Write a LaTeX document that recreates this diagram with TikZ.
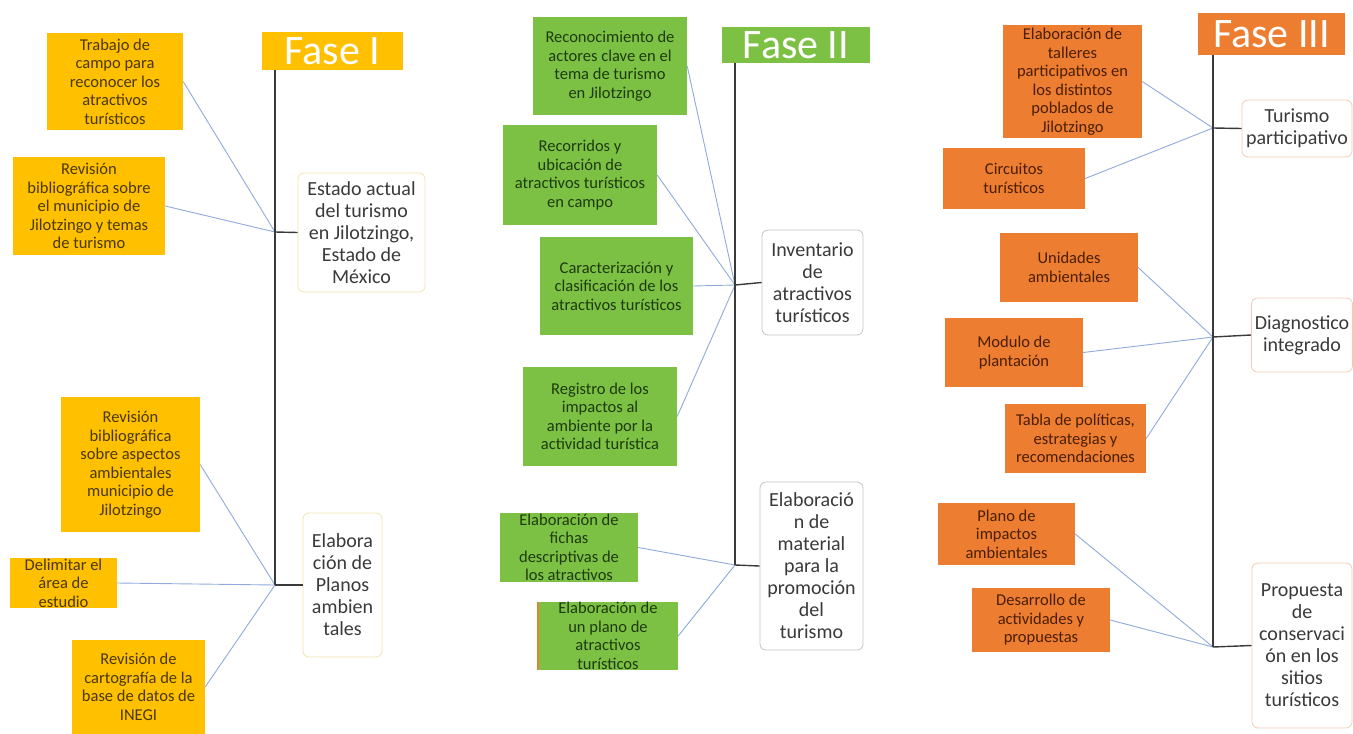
\documentclass[tikz,border=0pt]{standalone}
\usepackage{fontspec}
\setmainfont{Carlito}
\definecolor{cgold}{HTML}{FFC000}
\definecolor{cgreen}{HTML}{7CC144}
\definecolor{corange}{HTML}{ED7D31}
\definecolor{tgold}{HTML}{4A3800}
\definecolor{tgreen}{HTML}{1E3A0E}
\definecolor{torange}{HTML}{4A1E00}
\definecolor{cdark}{HTML}{3A3A3A}
\definecolor{cconn}{HTML}{8FAADC}
\definecolor{bgold}{HTML}{F3E3AE}
\definecolor{bgray}{HTML}{C4C4C4}
\definecolor{borange}{HTML}{F4C9B4}
\begin{document}
\begin{tikzpicture}[x=1pt,y=-1pt,
  sbox/.style={rectangle, inner sep=0pt, align=center, font=\fontsize{16.5}{18.5}\selectfont},
  goldbox/.style={sbox, fill=cgold, text=tgold},
  greenbox/.style={sbox, fill=cgreen, text=tgreen},
  orangebox/.style={sbox, fill=corange, text=torange},
  bigbox/.style={rectangle, rounded corners=6pt, draw, line width=0.8pt, fill=white, text=cdark, align=center, inner sep=0pt, font=\fontsize{20}{22}\selectfont},
  head/.style={rectangle, inner sep=0pt, text=white, text depth=0pt, font=\fontsize{42}{42}\selectfont},
  conn/.style={draw=cconn, line width=0.9pt},
  mainline/.style={draw=cdark, line width=1.4pt}
]
\useasboundingbox (0,0) rectangle (1353,734);

% ---------------- Fase I ----------------
\node[head, fill=cgold, minimum width=141, minimum height=38] (h1) at (332.5,51) {Fase I};
\node[goldbox, minimum width=136, minimum height=97] (a1) at (115,81.5) {Trabajo de\\campo para\\reconocer los\\atractivos\\turísticos};
\node[goldbox, minimum width=152, minimum height=98] (a2) at (89,206) {Revisión\\bibliográfica sobre\\el municipio de\\Jilotzingo y temas\\de turismo};
\node[bigbox, draw=bgold, minimum width=127, minimum height=119] (e1) at (361.5,232.5) {Estado actual\\del turismo\\en Jilotzingo,\\Estado de\\México};
\node[goldbox, minimum width=139, minimum height=135] (a3) at (130.5,464.5) {Revisión\\bibliográfica\\sobre aspectos\\ambientales\\municipio de\\Jilotzingo};
\node[goldbox, minimum width=107, minimum height=50] (a4) at (63.5,583) {Delimitar el\\área de\\estudio};
\node[goldbox, minimum width=133, minimum height=94] (a5) at (138.5,687) {Revisión de\\cartografía de la\\base de datos de\\INEGI};
\node[bigbox, draw=bgold, minimum width=79, minimum height=144] (e2) at (342.5,585) {Elabora\\ción de\\Planos\\ambien\\tales};

\coordinate (t1) at (275,70);
\coordinate (j1) at (275,232);
\coordinate (j2) at (275,585);
\draw[conn] (a1.east) -- (j1);
\draw[conn] (a2.east) -- (j1);
\draw[conn] (a3.east) -- (j2);
\draw[conn] (a4.east) -- (j2);
\draw[conn] (a5.east) -- (j2);
\draw[mainline] (t1) -- (j2);
\draw[mainline] (j1) -- (e1.west);
\draw[mainline] (j2) -- (e2.west);

% ---------------- Fase II ----------------
\node[head, fill=cgreen, minimum width=148, minimum height=36] (h2) at (796,45) {Fase II};
\node[greenbox, minimum width=154, minimum height=98] (b1) at (610,66) {Reconocimiento de\\actores clave en el\\tema de turismo\\en Jilotzingo};
\node[greenbox, minimum width=154, minimum height=100] (b2) at (580,175) {Recorridos y\\ubicación de\\atractivos turísticos\\en campo};
\node[greenbox, minimum width=153, minimum height=98] (b3) at (616.5,286) {Caracterización y\\clasificación de los\\atractivos turísticos};
\node[bigbox, draw=bgray, minimum width=101, minimum height=105] (e3) at (812.5,282.5) {Inventario\\de\\atractivos\\turísticos};
\node[greenbox, minimum width=154, minimum height=99] (b4) at (600,416.5) {Registro de los\\impactos al\\ambiente por la\\actividad turística};
\node[greenbox, minimum width=138, minimum height=69] (b5) at (569,547.5) {Elaboración de\\fichas\\descriptivas de\\los atractivos};
\node[greenbox, minimum width=140, minimum height=68] (b6) at (608,636) {Elaboración de\\un plano de\\atractivos\\turísticos};
\draw[corange, line width=2pt] (b6.north west) -- (b6.south west);
\node[bigbox, draw=bgray, minimum width=103, minimum height=168] (e4) at (811.5,566) {Elaboració\\n de\\material\\para la\\promoción\\del\\turismo};

\coordinate (t2) at (735,63);
\coordinate (j3) at (735,285);
\coordinate (j4) at (735,565);
\draw[conn] (b1.east) -- (j3);
\draw[conn] (b2.east) -- (j3);
\draw[conn] (b3.east) -- (j3);
\draw[conn] (b4.east) -- (j3);
\draw[conn] (b5.east) -- (j4);
\draw[conn] (b6.east) -- (j4);
\draw[mainline] (t2) -- (j4);
\draw[mainline] (j3) -- (e3.west);
\draw[mainline] (j4) -- (e4.west);

% ---------------- Fase III ----------------
\node[head, fill=corange, minimum width=147, minimum height=42] (h3) at (1271.5,34) {Fase III};
\node[orangebox, minimum width=139, minimum height=113] (c1) at (1072.5,81.5) {Elaboración de\\talleres\\participativos en\\los distintos\\poblados de\\Jilotzingo};
\node[orangebox, minimum width=142, minimum height=61] (c2) at (1014,178.5) {Circuitos\\turísticos};
\node[bigbox, draw=borange, minimum width=110, minimum height=57] (e5) at (1297,128.5) {Turismo\\participativo};
\node[orangebox, minimum width=138, minimum height=69] (c3) at (1069,267.5) {Unidades\\ambientales};
\node[orangebox, minimum width=138, minimum height=69] (c4) at (1014,352.5) {Modulo de\\plantación};
\node[bigbox, draw=borange, minimum width=101, minimum height=74] (e6) at (1302,335) {Diagnostico\\integrado};
\node[orangebox, minimum width=141, minimum height=69] (c5) at (1075.5,438.5) {Tabla de políticas,\\estrategias y\\recomendaciones};
\node[orangebox, minimum width=137, minimum height=62] (c6) at (1006.5,534) {Plano de\\impactos\\ambientales};
\node[orangebox, minimum width=138, minimum height=64] (c7) at (1041,620) {Desarrollo de\\actividades y\\propuestas};
\node[bigbox, draw=borange, minimum width=100, minimum height=165] (e7) at (1302,645.5) {Propuesta\\de\\conservaci\\ón en los\\sitios\\turísticos};

\coordinate (t3) at (1213,55);
\coordinate (j5) at (1213,128);
\coordinate (j6) at (1213,337);
\coordinate (j7) at (1213,647);
\draw[conn] (c1.east) -- (j5);
\draw[conn] (c2.east) -- (j5);
\draw[conn] (c3.east) -- (j6);
\draw[conn] (c4.east) -- (j6);
\draw[conn] (c5.east) -- (j6);
\draw[conn] (c6.east) -- (j7);
\draw[conn] (c7.east) -- (j7);
\draw[mainline] (t3) -- (j7);
\draw[mainline] (j5) -- (e5.west);
\draw[mainline] (j6) -- (e6.west);
\draw[mainline] (j7) -- (e7.west);
\end{tikzpicture}
\end{document}
